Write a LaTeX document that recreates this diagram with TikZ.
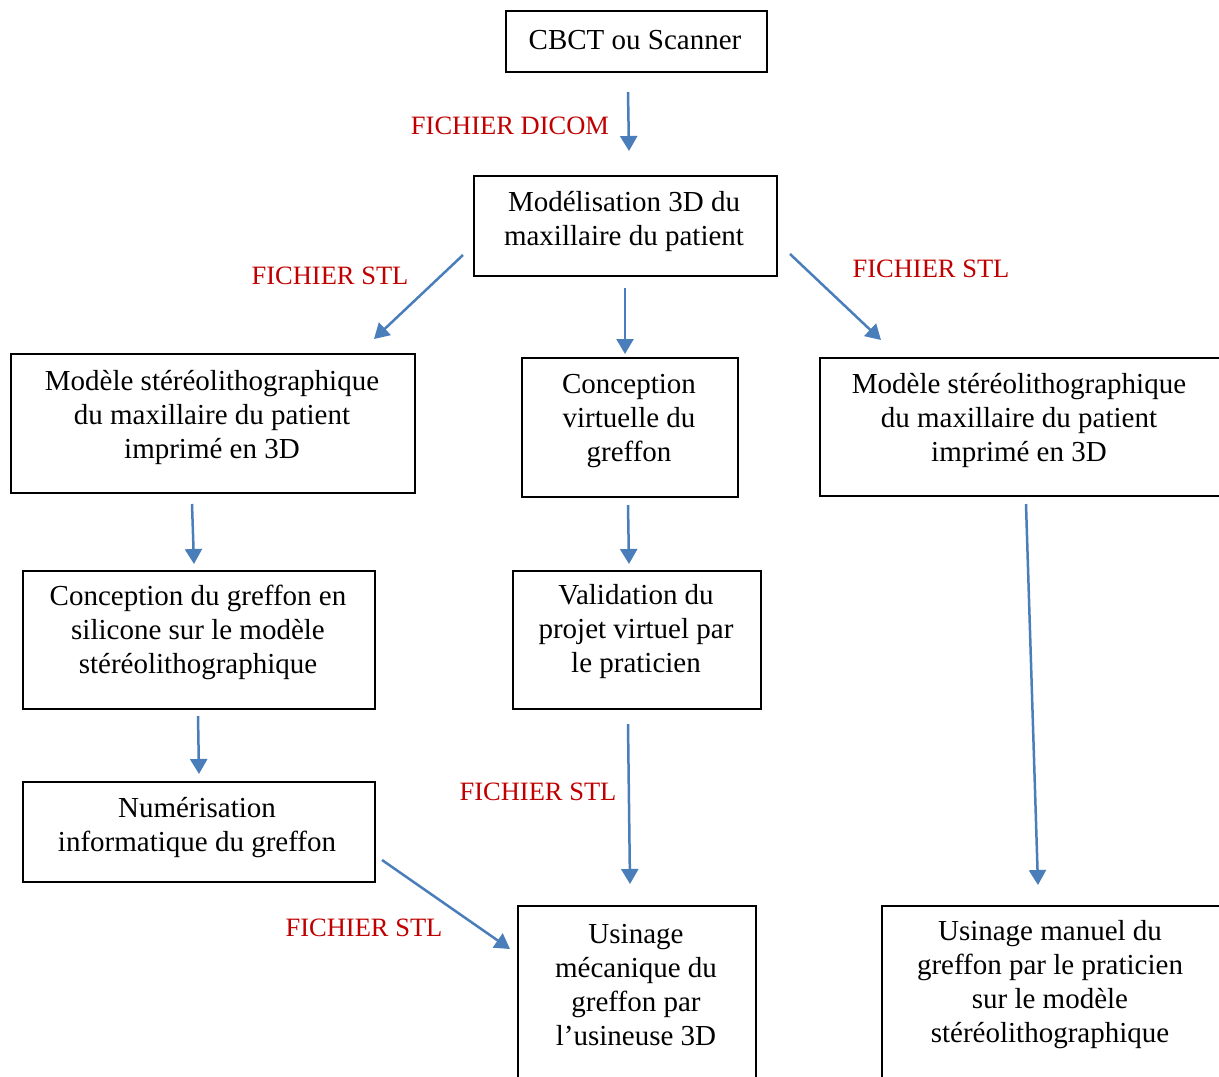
\documentclass[tikz,border=0pt]{standalone}
\usepackage{fontspec}
\setmainfont{Liberation Serif}
\usetikzlibrary{arrows.meta}
\definecolor{arrowblue}{HTML}{4A7EBB}
\definecolor{labelred}{HTML}{C00000}
\begin{document}
\begin{tikzpicture}[x=1pt,y=-1pt,
  box/.style={draw=black,line width=1.5pt,rectangle,anchor=north west,inner sep=0pt},
  txt/.style={align=center,inner sep=0pt,font=\fontsize{29}{34}\selectfont,yshift=-2pt},
  lbl/.style={text=labelred,inner sep=0pt,font=\fontsize{26.5}{30}\selectfont,yshift=-1pt},
  arr/.style={draw=arrowblue,line width=2.5pt,-{Triangle[width=17pt,length=15pt]}}]
\useasboundingbox (0,0) rectangle (1219,1077);
\clip (0,0) rectangle (1219,1077);
\fill[white] (0,0) rectangle (1219,1077);
% boxes
\node[box,minimum width=261pt,minimum height=61pt] (b1) at (505,10) {};
\node[box,minimum width=303pt,minimum height=100pt] (b2) at (473,175) {};
\node[box,minimum width=404pt,minimum height=139pt] (b3) at (10,353) {};
\node[box,minimum width=216pt,minimum height=139pt] (b4) at (521,357) {};
\node[box,minimum width=401pt,minimum height=138pt] (b5) at (819,357) {};
\node[box,minimum width=352pt,minimum height=138pt] (b6) at (22,570) {};
\node[box,minimum width=248pt,minimum height=138pt] (b7) at (512,570) {};
\node[box,minimum width=352pt,minimum height=100pt] (b8) at (22,781) {};
\node[box,minimum width=238pt,minimum height=200pt] (b9) at (517,905) {};
\node[box,minimum width=339pt,minimum height=200pt] (b10) at (881,905) {};
% texts
\node[txt] (t1) at (635,38) {CBCT ou Scanner};
\node[txt] (t2) at (624,219) {Modélisation 3D du\\maxillaire du patient};
\node[txt] (t3) at (212,415) {Modèle stéréolithographique\\du maxillaire du patient\\imprimé en 3D};
\node[txt] (t4) at (629,419) {Conception\\virtuelle du\\greffon};
\node[txt] (t5) at (1019,418) {Modèle stéréolithographique\\du maxillaire du patient\\imprimé en 3D};
\node[txt] (t6) at (198,630) {Conception du greffon en\\silicone sur le modèle\\stéréolithographique};
\node[txt] (t7) at (636,630) {Validation du\\projet virtuel par\\le praticien};
\node[txt] (t8) at (197,826) {Numérisation\\informatique du greffon};
\node[txt] (t9) at (636,983) {Usinage\\mécanique du\\greffon par\\l’usineuse 3D};
\node[txt] (t10) at (1050,983) {Usinage manuel du\\greffon par le praticien\\sur le modèle\\stéréolithographique};
% labels
\node[lbl] (l1) at (510,125) {FICHIER DICOM};
\node[lbl] (l2) at (330,275) {FICHIER STL};
\node[lbl] (l3) at (931,268) {FICHIER STL};
\node[lbl] (l4) at (538,791) {FICHIER STL};
\node[lbl] (l5) at (364,927) {FICHIER STL};
% connector end points
\coordinate (a1s) at (628,92);  \coordinate (a1e) at (629,151);
\coordinate (a2s) at (463,255); \coordinate (a2e) at (374,339);
\coordinate (a3s) at (625,288); \coordinate (a3e) at (625,354);
\coordinate (a4s) at (790,254); \coordinate (a4e) at (881,340);
\coordinate (a5s) at (192,504); \coordinate (a5e) at (194,564);
\coordinate (a6s) at (628,505); \coordinate (a6e) at (629,564);
\coordinate (a7s) at (1026,504); \coordinate (a7e) at (1038,885);
\coordinate (a8s) at (198,716); \coordinate (a8e) at (199,774);
\coordinate (a9s) at (628,724); \coordinate (a9e) at (630,884);
\coordinate (a10s) at (382,860); \coordinate (a10e) at (510,949);
\foreach \i in {1,...,10} \draw[arr] (a\i s) -- (a\i e);
\end{tikzpicture}
\end{document}
